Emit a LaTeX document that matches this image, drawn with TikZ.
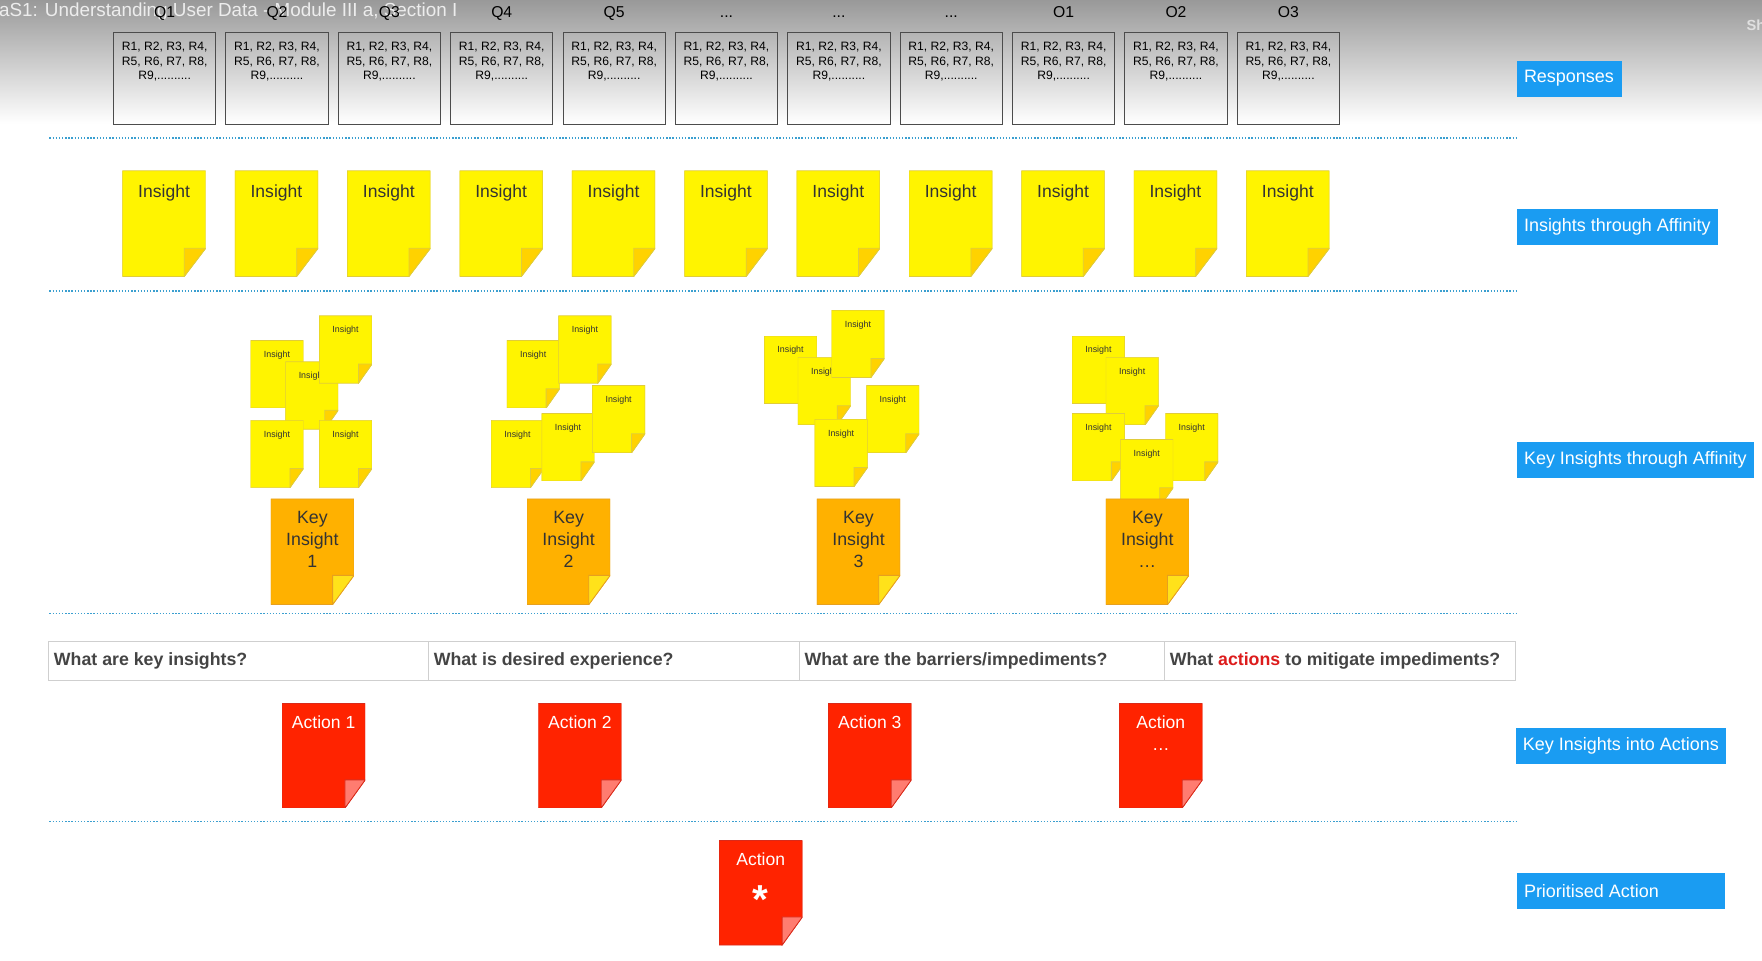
\documentclass[tikz,border=0pt]{standalone}
\usepackage{fontspec}
\setmainfont{Liberation Sans}
\usetikzlibrary{positioning}
\definecolor{noteyellow}{HTML}{FFF400}
\definecolor{foldgold}{HTML}{FFD200}
\definecolor{yellowline}{HTML}{E0CC3A}
\definecolor{keyorange}{HTML}{FFB100}
\definecolor{keyfold}{HTML}{FFE21A}
\definecolor{orangeline}{HTML}{E6A020}
\definecolor{actionred}{HTML}{FF2300}
\definecolor{actionfold}{HTML}{FF7C70}
\definecolor{redline}{HTML}{D92A1A}
\definecolor{tagblue}{HTML}{1A9CF2}
\definecolor{dotblue}{HTML}{3A9FD0}
\definecolor{celltext}{HTML}{444444}
\definecolor{cellline}{HTML}{CFCFCF}
\definecolor{keyred}{HTML}{DD1C1C}
\definecolor{notetext}{HTML}{333333}
\newcommand{\rlist}{R1, R2, R3, R4,\\R5, R6, R7, R8,\\R9,..........}

\begin{document}
\begin{tikzpicture}[x=1pt, y=-1pt,
    note colors/.code args={#1/#2/#3}{\def\notefill{#1}\def\notefold{#2}\def\noteline{#3}},
    note fold/.code args={#1/#2}{\def\foldw{#1}\def\foldh{#2}},
    note size/.style n args={3}{
      execute at begin node={\begin{minipage}[c][#2][t]{#1}\centering\vspace*{#3}},
      execute at end node={\end{minipage}}},
    note/.style={inner sep=0pt, outer sep=0pt, anchor=north west,
      path picture={
        \filldraw[fill=\notefill, draw=\noteline, line width=0.7pt]
          (path picture bounding box.north west) -- (path picture bounding box.north east)
          -- ([yshift=\foldh]path picture bounding box.south east)
          -- ([xshift=-\foldw]path picture bounding box.south east)
          -- (path picture bounding box.south west) -- cycle;
        \filldraw[fill=\notefold, draw=\noteline, line width=0.7pt]
          ([yshift=\foldh]path picture bounding box.south east)
          -- ([xshift=-\foldw, yshift=\foldh]path picture bounding box.south east)
          -- ([xshift=-\foldw]path picture bounding box.south east) -- cycle;
      }},
    insight/.style={note, note colors={noteyellow/foldgold/yellowline}, note fold={19pt/25pt},
      note size={74pt}{94pt}{12.3pt}, font=\fontsize{15.6}{19.5}\selectfont, text=notetext},
    small/.style={note, note colors={noteyellow/foldgold/yellowline}, note fold={12pt/17pt},
      note size={47pt}{60pt}{9.3pt}, font=\fontsize{7.9}{9.5}\selectfont, text=notetext},
    keynote/.style={note, note colors={keyorange/keyfold/orangeline}, note fold={19pt/26pt},
      note size={74pt}{94pt}{10.8pt}, font=\fontsize{15.8}{19.5}\selectfont, text=notetext},
    actionnote/.style={note, note colors={actionred/actionfold/redline}, note fold={18pt/25pt},
      note size={74pt}{93pt}{11.2pt}, font=\fontsize{15.6}{19.5}\selectfont, text=white},
    resp/.style={draw=black!70, line width=0.8pt, inner sep=0pt, outer sep=0pt, anchor=north west,
      note size={91pt}{82pt}{8.8pt}, font=\fontsize{10.8}{12.5}\selectfont},
    qlabel/.style={inner sep=0pt, text depth=0pt, font=\fontsize{14}{16}\selectfont},
    rowline/.style={dotblue, line width=1.6pt, dash pattern=on 1.2pt off 1.6pt},
    cell/.style={draw=cellline, line width=0.8pt, inner xsep=5pt, inner ysep=0pt, outer sep=0pt,
      minimum height=35pt, font=\bfseries\fontsize{15.8}{19}\selectfont, text=celltext,
      execute at begin node={\hbox to #1\bgroup}, execute at end node={\hfil\egroup}},
    rowtag/.style={fill=tagblue, text=white, font=\fontsize{16}{19}\selectfont, inner xsep=6pt,
      inner ysep=0pt, minimum height=32pt, anchor=west,
      execute at begin node={\hbox to #1\bgroup}, execute at end node={\hfil\egroup}}
  ]
    \useasboundingbox (0,0) rectangle (1568,854.3);
    \fill[white] (0,0) rectangle (1568,854.3);

    % Video title bar
    \shade[top color=black!40, middle color=black!10, bottom color=white] (0,0) rectangle (1568,110);
    \node[anchor=base west, inner sep=0pt, text=white!93!black, font=\fontsize{16.8}{20}\selectfont] (title) at (-1,15) {aS1: Understanding User Data - Module III a, Section I};
    \node[anchor=base west, inner sep=0pt, text=white!88!black, font=\bfseries\fontsize{13}{15}\selectfont] (share) at (1554,27) {Sh};

    % Responses
    \node[resp] (r1) at (101,29) {\rlist};
    \node[resp, right=9pt of r1] (r2) {\rlist};
    \node[resp, right=9pt of r2] (r3) {\rlist};
    \node[resp, right=9pt of r3] (r4) {\rlist};
    \node[resp, right=9pt of r4] (r5) {\rlist};
    \node[resp, right=9pt of r5] (r6) {\rlist};
    \node[resp, right=9pt of r6] (r7) {\rlist};
    \node[resp, right=9pt of r7] (r8) {\rlist};
    \node[resp, right=9pt of r8] (r9) {\rlist};
    \node[resp, right=9pt of r9] (r10) {\rlist};
    \node[resp, right=9pt of r10] (r11) {\rlist};

    % Question labels
    \node[qlabel, above=13pt of r1] (q1) {Q1};
    \node[qlabel, above=13pt of r2] (q2) {Q2};
    \node[qlabel, above=13pt of r3] (q3) {Q3};
    \node[qlabel, above=13pt of r4] (q4) {Q4};
    \node[qlabel, above=13pt of r5] (q5) {Q5};
    \node[qlabel, above=13pt of r6] (q6) {...};
    \node[qlabel, above=13pt of r7] (q7) {...};
    \node[qlabel, above=13pt of r8] (q8) {...};
    \node[qlabel, above=13pt of r9] (o1) {O1};
    \node[qlabel, above=13pt of r10] (o2) {O2};
    \node[qlabel, above=13pt of r11] (o3) {O3};

    % Insights
    \node[insight] (i1) at (109,152) {Insight};
    \node[insight, right=26pt of i1] (i2) {Insight};
    \node[insight, right=26pt of i2] (i3) {Insight};
    \node[insight, right=26pt of i3] (i4) {Insight};
    \node[insight, right=26pt of i4] (i5) {Insight};
    \node[insight, right=26pt of i5] (i6) {Insight};
    \node[insight, right=26pt of i6] (i7) {Insight};
    \node[insight, right=26pt of i7] (i8) {Insight};
    \node[insight, right=26pt of i8] (i9) {Insight};
    \node[insight, right=26pt of i9] (i10) {Insight};
    \node[insight, right=26pt of i10] (i11) {Insight};

    % Affinity clusters
    \node[small] (s1a) at (223,303) {Insight};
    \node[small] (s1c) at (254,322) {Insight};
    \node[small] (s1b) at (284,281) {Insight};
    \node[small] (s1d) at (223,374) {Insight};
    \node[small] (s1e) at (284,374) {Insight};

    \node[small] (s2a) at (451,303) {Insight};
    \node[small] (s2b) at (497,281) {Insight};
    \node[small] (s2c) at (437,374) {Insight};
    \node[small] (s2d) at (482,368) {Insight};
    \node[small] (s2e) at (527,343) {Insight};

    \node[small] (s3a) at (680,299) {Insight};
    \node[small] (s3b) at (710,318) {Insight};
    \node[small] (s3c) at (740,276) {Insight};
    \node[small] (s3d) at (771,343) {Insight};
    \node[small] (s3e) at (725,373) {Insight};

    \node[small] (s4a) at (954,299) {Insight};
    \node[small] (s4b) at (984,318) {Insight};
    \node[small] (s4c) at (954,368) {Insight};
    \node[small] (s4d) at (1037,368) {Insight};
    \node[small] (s4e) at (997,391) {Insight};

    % Key insights
    \node[keynote] (k1) at (241,444) {Key\\Insight\\1};
    \node[keynote] (k2) at (469,444) {Key\\Insight\\2};
    \node[keynote] (k3) at (727,444) {Key\\Insight\\3};
    \node[keynote] (k4) at (984,444) {Key\\Insight\\\dots};

    % Row separators
    \draw[rowline] (44,123) -- (1350,123);
    \draw[rowline] (44,259) -- (1350,259);
    \draw[rowline] (44,546) -- (1350,546);
    \draw[rowline] (44,731) -- (1350,731);

    % Guiding questions
    \node[cell=328pt, anchor=west] (c1) at (43,588) {What are key insights?};
    \node[cell=320pt, right=0pt of c1] (c2) {What is desired experience?};
    \node[cell=315pt, right=0pt of c2] (c3) {What are the barriers/impediments?};
    \node[cell=303pt, right=0pt of c3] (c4) {What \textcolor{keyred}{actions} to mitigate impediments?};

    % Actions
    \node[actionnote] (a1) at (251,626) {Action 1};
    \node[actionnote] (a2) at (479,626) {Action 2};
    \node[actionnote] (a3) at (737,626) {Action 3};
    \node[actionnote] (a4) at (996,626) {Action\\\dots};
    \node[actionnote] (pa) at (640,748) {Action\\\raisebox{-23pt}{\fontsize{36}{36}\selectfont\bfseries *}};

    % Row tags
    \node[rowtag=81pt] (t1) at (1350,70) {Responses};
    \node[rowtag=167pt] (t2) at (1350,202) {Insights through Affinity};
    \node[rowtag=199pt] (t3) at (1350,409) {Key Insights through Affinity};
    \node[rowtag=175pt] (t4) at (1349,664) {Key Insights into Actions};
    \node[rowtag=173pt] (t5) at (1350,793) {Prioritised Action};
\end{tikzpicture}
\end{document}
